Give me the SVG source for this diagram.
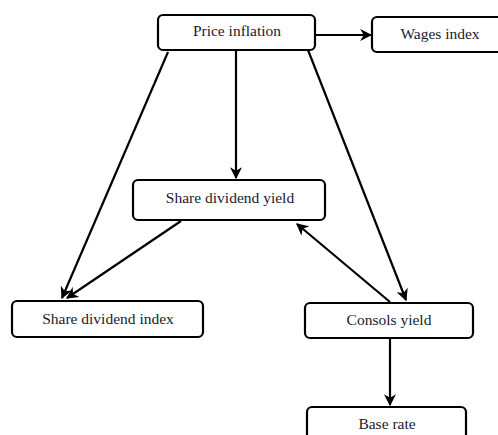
<svg xmlns="http://www.w3.org/2000/svg" width="498" height="435" viewBox="0 0 498 435">
<style>
.box{fill:#fff;stroke:#000;stroke-width:2.2}
.lbl{font-family:"Liberation Serif","Times New Roman",serif;font-size:15.5px;fill:#1a1a2e;text-anchor:middle}
.c{stroke:#000;stroke-width:2.2;fill:none;marker-end:url(#ah)}
</style>
<defs>
<marker id="ah" viewBox="0 0 10 10" refX="9" refY="5" markerWidth="5.5" markerHeight="5.5" orient="auto" markerUnits="strokeWidth">
<path d="M0,0 L10,5 L0,10 L3,5 Z" fill="#000"/>
</marker>
</defs>
<rect width="498" height="435" fill="#fff"/>
<g id="connectors">
<line class="c" x1="315" y1="35" x2="371" y2="35"/>
<line class="c" x1="236" y1="50" x2="236" y2="178"/>
<line class="c" x1="168" y1="52" x2="62" y2="298"/>
<line class="c" x1="181" y1="221" x2="67" y2="298"/>
<line class="c" x1="308" y1="50" x2="406" y2="300"/>
<line class="c" x1="390" y1="302" x2="297" y2="224"/>
<line class="c" x1="390" y1="338" x2="390" y2="405"/>
</g>
<g id="price-inflation">
<rect class="box" x="158" y="15" width="157" height="35" rx="5"/>
<text class="lbl" x="237" y="36">Price inflation</text>
</g>
<g id="wages-index">
<rect class="box" x="372" y="17" width="136" height="35" rx="5"/>
<text class="lbl" x="440" y="39">Wages index</text>
</g>
<g id="share-dividend-yield">
<rect class="box" x="133" y="180" width="192" height="40" rx="5"/>
<text class="lbl" x="230" y="203">Share dividend yield</text>
</g>
<g id="share-dividend-index">
<rect class="box" x="12" y="301" width="191" height="36" rx="5"/>
<text class="lbl" x="108" y="324">Share dividend index</text>
</g>
<g id="consols-yield">
<rect class="box" x="305" y="303" width="168" height="35" rx="5"/>
<text class="lbl" x="389" y="325">Consols yield</text>
</g>
<g id="base-rate">
<rect class="box" x="307" y="407" width="159" height="40" rx="5"/>
<text class="lbl" x="387" y="429">Base rate</text>
</g>
</svg>
